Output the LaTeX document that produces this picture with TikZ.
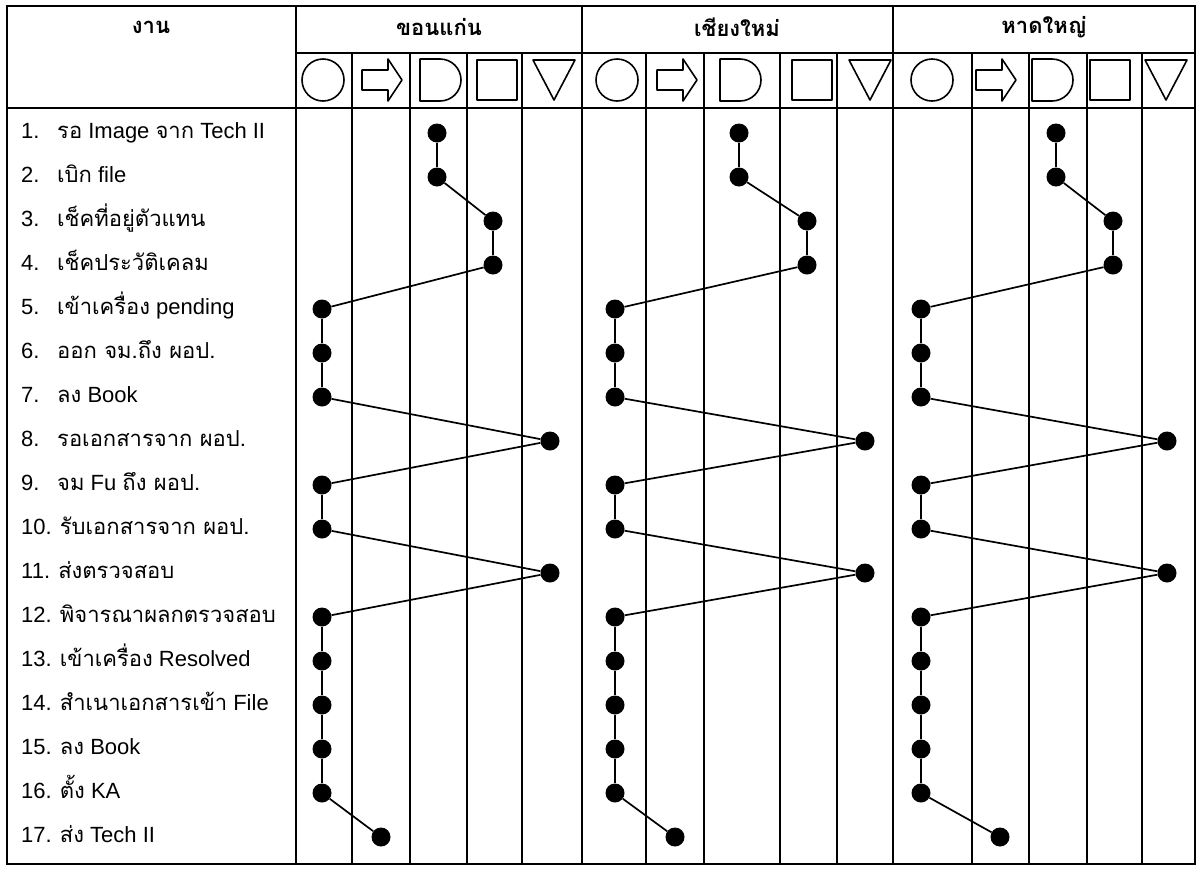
\documentclass[tikz,border=0pt]{standalone}
\usepackage{fontspec}
\setmainfont{Liberation Sans}
\newfontfamily\thaifont[Script=Thai]{Loma}
\newcommand{\tha}[1]{{\thaifont #1}}

\begin{document}
\begin{tikzpicture}[x=1pt,y=-1pt,
  grid/.style={line width=1.6pt},
  sym/.style={line width=1.6pt,line join=round},
  dot/.style={circle,fill=black,inner sep=0pt,minimum size=19pt},
  link/.style={line width=1.7pt},
  lab/.style={anchor=base west,inner sep=0pt,font=\fontsize{22}{26}\selectfont},
  head/.style={inner sep=0pt,font=\fontsize{22}{26}\selectfont\thaifont\bfseries}]
\useasboundingbox (0,0) rectangle (1201,868);
% frame and header lines
\draw[grid] (7,6) rectangle (1195,864);
\draw[grid] (296,53) -- (1195,53);
\draw[grid] (7,108) -- (1195,108);
% group borders
\foreach \x in {296,582,893}
  \draw[grid] (\x,6) -- (\x,864);
% sub-columns
\foreach \x in {352,410,467,522,646,704,780,837,972,1029,1087,1142}
  \draw[grid] (\x,53) -- (\x,864);
% header texts
\node[head] (hd-task) at (151,27) {งาน};
\node[head] (hd-kk) at (439,27) {ขอนแก่น};
\node[head] (hd-cm) at (737,27) {เชียงใหม่};
\node[head] (hd-hy) at (1044,27) {หาดใหญ่};
% symbols: operation, transport, delay, inspection, storage
\foreach \xa/\xb/\xc/\xd/\xe in {323/382/440/497/554, 617/677/740/812/870, 932/996/1052/1110/1166}{
  \draw[sym] (\xa,80) circle (21);
  \draw[sym] (\xb-20,70) -- (\xb+6,70) -- (\xb+6,59) -- (\xb+20,80)
    -- (\xb+6,101) -- (\xb+6,90) -- (\xb-20,90) -- cycle;
  \draw[sym] (\xc-20,59) -- (\xc,59) arc (-90:90:21) -- (\xc-20,101) -- cycle;
  \draw[sym] (\xd-20,60) rectangle (\xd+20,100);
  \draw[sym] (\xe-21,60) -- (\xe+21,60) -- (\xe,100) -- cycle;
}
% steps
\foreach \r/\t in {1/{\tha{รอ} Image \tha{จาก} Tech II},2/{\tha{เบิก} file},
  3/{\tha{เช็คที่อยู่ตัวแทน}},4/{\tha{เช็คประวัติเคลม}},5/{\tha{เข้าเครื่อง} pending},
  6/{\tha{ออก จม.ถึง ผอป.}},7/{\tha{ลง} Book},8/{\tha{รอเอกสารจาก ผอป.}},
  9/{\tha{จม} Fu \tha{ถึง ผอป.}}}{
  \node[lab] (n\r) at (21,{138+(\r-1)*44}) {\r.};
  \node[lab] (t\r) at (57,{138+(\r-1)*44}) {\t};
}
\foreach \r/\t in {10/{\tha{รับเอกสารจาก ผอป.}},11/{\tha{ส่งตรวจสอบ}},
  12/{\tha{พิจารณาผลกตรวจสอบ}},13/{\tha{เข้าเครื่อง} Resolved},
  14/{\tha{สำเนาเอกสารเข้า} File},15/{\tha{ลง} Book},16/{\tha{ตั้ง} KA},
  17/{\tha{ส่ง} Tech II}}{
  \node[lab] (t\r) at (21,{138+(\r-1)*44}) {\r. \t};
}
% dots and links per branch
\foreach \g/\xa/\xb/\xc/\xd/\xe in {1/322/381/437/493/550, 2/615/675/739/807/865, 3/921/1000/1056/1113/1167}{
  \foreach \r/\c in {1/3,2/3,3/4,4/4,5/1,6/1,7/1,8/5,9/1,10/1,11/5,12/1,13/1,14/1,15/1,16/1,17/2}{
    \pgfmathsetmacro\px{{\xa,\xb,\xc,\xd,\xe}[\c-1]}
    \node[dot] (g\g-\r) at (\px,{133+(\r-1)*44}) {};
  }
  \foreach \r [evaluate=\r as \s using int(\r+1)] in {1,...,16}
    \draw[link] (g\g-\r) -- (g\g-\s);
}
\end{tikzpicture}
\end{document}
